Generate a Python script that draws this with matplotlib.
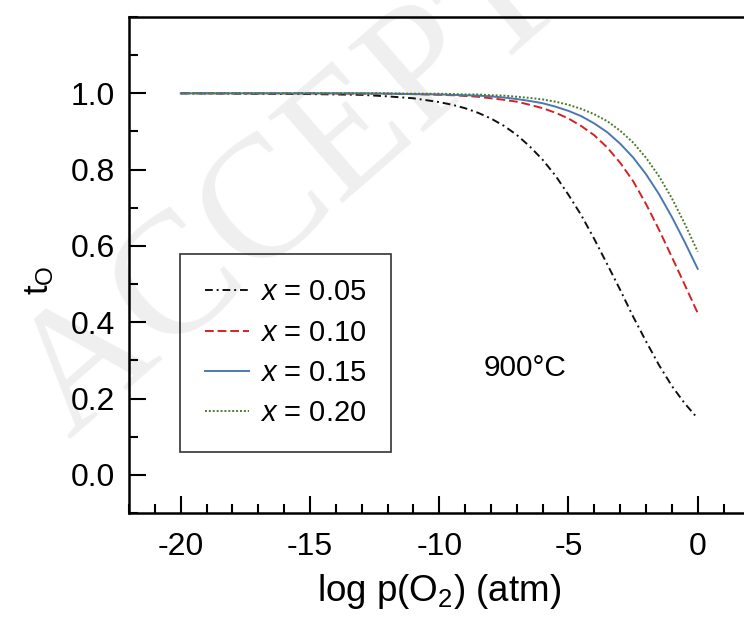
import matplotlib
matplotlib.use("Agg")
import matplotlib.pyplot as plt
from matplotlib.ticker import MultipleLocator

plt.rcParams['font.family'] = ['Liberation Sans', 'DejaVu Sans']
plt.rcParams['mathtext.fontset'] = 'custom'
plt.rcParams['mathtext.rm'] = 'Liberation Sans'
plt.rcParams['mathtext.it'] = 'Liberation Sans:italic'

# log p(O2) grid
log_po2 = [-20, -15, -13, -12, -11, -10, -9.5, -9, -8.5, -8, -7.5, -7, -6.5, -6, -5.5, -5,
           -4.5, -4, -3.5, -3, -2.5, -2, -1.5, -1, -0.5, 0]

t_x005 = [1.000, 0.998, 0.996, 0.992, 0.987, 0.977, 0.970, 0.961, 0.949, 0.934, 0.915, 0.891, 0.861,
          0.826, 0.784, 0.734, 0.680, 0.618, 0.552, 0.485, 0.415, 0.350, 0.288, 0.233, 0.187, 0.148]
t_x010 = [1.000, 1.000, 0.999, 0.999, 0.998, 0.996, 0.995, 0.993, 0.991, 0.987, 0.983, 0.978, 0.970,
          0.961, 0.949, 0.934, 0.914, 0.890, 0.858, 0.818, 0.770, 0.710, 0.643, 0.571, 0.498, 0.424]
t_x015 = [1.000, 1.000, 1.000, 0.999, 0.998, 0.997, 0.996, 0.995, 0.994, 0.992, 0.989, 0.985, 0.980,
          0.974, 0.965, 0.954, 0.940, 0.921, 0.898, 0.868, 0.832, 0.788, 0.736, 0.676, 0.610, 0.540]
t_x020 = [1.000, 1.000, 1.000, 1.000, 0.999, 0.999, 0.998, 0.997, 0.997, 0.995, 0.994, 0.991, 0.988,
          0.984, 0.978, 0.970, 0.959, 0.945, 0.927, 0.902, 0.871, 0.831, 0.783, 0.725, 0.658, 0.585]

labels = ['$x$ = 0.05', '$x$ = 0.10', '$x$ = 0.15', '$x$ = 0.20']
series = [t_x005, t_x010, t_x015, t_x020]
colors = ['#111111', '#d42222', '#4a78b2', '#4f7a2c']
styles = [(0, (4, 2, 1, 2)), (0, (4.5, 2)), '-', (0, (1, 1))]

xticks = [-20, -15, -10, -5, 0]
yticks = [0.0, 0.2, 0.4, 0.6, 0.8, 1.0]

fig = plt.figure(figsize=(7.44, 6.21), dpi=100)
W, H = 744, 621
ax = fig.add_axes([129 / W, (H - 513) / H, 620.4 / W, 496 / H])
ax.patch.set_alpha(0)

# faint watermark behind everything
fig.text(70 / W, (H - 440) / H, 'ACCEPTED MANUSCRIPT', fontsize=125, family='Liberation Serif',
         color='#efefef', rotation=41, rotation_mode='anchor', ha='left', va='baseline', zorder=-5)

for y, lab, c, ls in zip(series, labels, colors, styles):
    ax.plot(log_po2, y, color=c, linestyle=ls, linewidth=1.4, label=lab)

ax.set_xlim(-22, 2)
ax.set_ylim(-0.1, 1.2)
ax.set_xticks(xticks)
ax.set_xticklabels([str(v) for v in xticks])
ax.set_yticks(yticks)
ax.set_yticklabels([f'{v:.1f}' for v in yticks])
ax.xaxis.set_minor_locator(MultipleLocator(1))
ax.yaxis.set_minor_locator(MultipleLocator(0.1))
ax.tick_params(which='major', direction='in', length=12, width=1.5, labelsize=23, pad=14)
ax.tick_params(which='minor', direction='in', length=6.5, width=1.5)
ax.tick_params(axis='y', which='major', pad=10)
for s in ax.spines.values():
    s.set_linewidth(1.8)

ax.set_xlabel('log p(O$_2$) (atm)', fontsize=26.5, labelpad=7)
ax.set_ylabel('t$_\\mathrm{O}$', fontsize=25)
ax.yaxis.set_label_coords(-0.118, 0.47)

ax.text(-8.3, 0.28, '900°C', fontsize=21.5, ha='left', va='center')

leg = ax.legend(loc='lower left', bbox_to_anchor=((180 - 129) / 620.4, (513 - 452) / 496),
                borderaxespad=0, fontsize=21, frameon=True, fancybox=False,
                handlelength=1.5, handletextpad=0.4, labelspacing=0.42, borderpad=0.85)
leg.get_frame().set_edgecolor('black')
leg.get_frame().set_linewidth(1.2)
leg.get_frame().set_facecolor('none')

fig.savefig('out.png', dpi=100)
